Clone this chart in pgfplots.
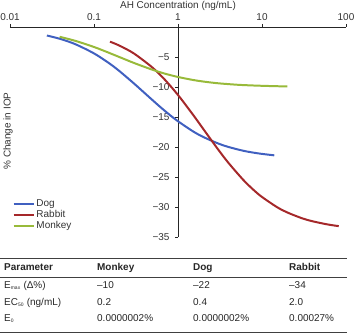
\documentclass[border=0pt]{standalone}
\usepackage{fontspec}
\setmainfont{Liberation Sans}
\usepackage{pgfplots}
\pgfplotsset{compat=1.18}
\definecolor{dogc}{RGB}{64,96,192}
\definecolor{rabc}{RGB}{165,40,42}
\definecolor{monc}{RGB}{152,186,58}
\begin{document}
\begin{tikzpicture}
\path[use as bounding box] (-10bp,-99bp) rectangle (345bp,237bp);
\begin{axis}[
  at={(0,0)}, anchor=south west,
  scale only axis, width=336bp, height=210bp,
  xmode=log, xmin=0.01, xmax=100, ymin=-35, ymax=0,
  axis x line=top, axis y line=middle,
  axis line style={-, line width=0.8pt, black!85},
  tick style={line width=0.8pt, black!85},
  tick align=outside, major tick length=3bp,
  xminorticks=false,
  xtick={0.01,0.1,1,10,100}, xticklabels={0.01,0.1,1,10,100},
  ytick={-35,-30,-25,-20,-15,-10,-5},
  yticklabels={−35,−30,−25,−20,−15,−10,−5},
  ticklabel style={font=\fontsize{10}{12}\selectfont, text=black!80},
  yticklabel style={xshift=-2bp},
  /pgf/number format/assume math mode=true,
  clip=false,
  legend cell align=left,
  legend style={draw=none, fill=none, at={(-0.002,0.195)}, anchor=north west,
    font=\fontsize{10}{12}\selectfont, text=black!80,
    nodes={inner sep=1pt, inner xsep=2pt, text height=7pt, text depth=2pt}, row sep=0pt},
  legend image code/.code={\draw[#1, line width=2pt] (0bp,0bp) -- (20bp,0bp);},
]
\addplot[dogc, line width=2pt, smooth] coordinates {
(0.0275,-1.42) (0.04,-2.0) (0.06,-2.87) (0.1,-4.4) (0.15,-6.0) (0.2,-7.33)
(0.3,-9.43) (0.4,-11.0) (0.6,-13.2) (0.8,-14.67) (1,-15.71) (1.5,-17.37)
(2,-18.33) (3,-19.41) (4,-20.0) (6,-20.63) (8,-20.95) (10,-21.15) (14,-21.39)};
\addlegendentry{Dog}
\addplot[rabc, line width=2pt, smooth] coordinates {
(0.155,-2.45) (0.2,-3.09) (0.3,-4.43) (0.5,-6.8) (0.7,-8.81) (1,-11.33)
(1.5,-14.57) (2,-17.0) (3,-20.4) (4,-22.67) (6,-25.5) (8,-27.2) (10,-28.33)
(15,-30.0) (20,-30.91) (30,-31.88) (40,-32.38) (60,-32.9) (82,-33.19)};
\addlegendentry{Rabbit}
\addplot[monc, line width=2pt, smooth] coordinates {
(0.039,-1.63) (0.06,-2.31) (0.1,-3.33) (0.15,-4.29) (0.2,-5.0) (0.3,-6.0)
(0.5,-7.14) (0.7,-7.78) (1,-8.33) (1.5,-8.82) (2,-9.09) (3,-9.38) (5,-9.62)
(7,-9.72) (10,-9.80) (15,-9.87) (20,-9.90)};
\addlegendentry{Monkey}
\end{axis}
\node[font=\fontsize{10}{12}\selectfont, text=black!80] at (168bp,231bp) {AH Concentration (ng/mL)};
\node[font=\fontsize{10}{12}\selectfont, text=black!80, rotate=90] at (-2bp,106bp) {\% Change in IOP};
% table
\draw[line width=0.8pt, black!75] (-10bp,-21bp) -- (337bp,-21bp);
\draw[line width=0.8pt, black!75] (-10bp,-40bp) -- (337bp,-40bp);
\draw[line width=0.8pt, black!75] (-10bp,-95bp) -- (337bp,-95bp);
\begin{scope}[every node/.style={anchor=west, inner sep=0pt, font=\fontsize{10}{12}\selectfont, text=black!85, text height=7pt, text depth=2pt}]
\node[font=\fontsize{10}{12}\selectfont\bfseries] at (-6bp,-31bp) {Parameter};
\node[font=\fontsize{10}{12}\selectfont\bfseries] at (87bp,-31bp) {Monkey};
\node[font=\fontsize{10}{12}\selectfont\bfseries] at (183bp,-31bp) {Dog};
\node[font=\fontsize{10}{12}\selectfont\bfseries] at (279bp,-31bp) {Rabbit};
\node at (-6bp,-49bp) {E\textsubscript{\fontsize{5}{6}\selectfont max} (Δ\%)};
\node at (87bp,-49bp) {–10};
\node at (183bp,-49bp) {–22};
\node at (279bp,-49bp) {–34};
\node at (-6bp,-66bp) {EC\textsubscript{\fontsize{5}{6}\selectfont 50} (ng/mL)};
\node at (87bp,-66bp) {0.2};
\node at (183bp,-66bp) {0.4};
\node at (279bp,-66bp) {2.0};
\node at (-6bp,-82bp) {E\textsubscript{\fontsize{5}{6}\selectfont 0}};
\node at (87bp,-82bp) {0.0000002\%};
\node at (183bp,-82bp) {0.0000002\%};
\node at (279bp,-82bp) {0.00027\%};
\end{scope}
\end{tikzpicture}
\end{document}
